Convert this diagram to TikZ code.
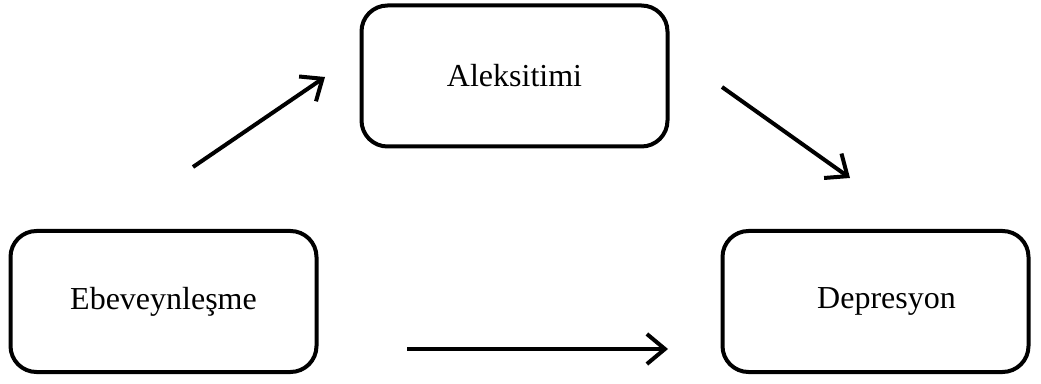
\documentclass[tikz,border=0pt]{standalone}
\usepackage{fontspec}
\setmainfont{Liberation Serif}
\usetikzlibrary{arrows.meta}

\tikzset{
  kutu/.style={draw, line width=4pt, rounded corners=26pt, inner sep=0pt,
    minimum width=306pt, minimum height=141pt, font=\fontsize{32}{38}\selectfont},
  ok/.style={line width=4pt, -{Straight Barb[length=18pt,width=30pt,line width=4pt]}}
}

\begin{document}
\begin{tikzpicture}[x=1pt,y=1pt]
\useasboundingbox (0,0) rectangle (1041,383);
\node[kutu] (ebev) at (163.5,81.5) {Ebeveynleşme};
\node[kutu] (aleks) at (514.5,307) {Aleksitimi};
\node[kutu] (depr) at (875.5,81.5) {\hspace*{22pt}Depresyon};

\coordinate (E1) at (193,216);
\coordinate (A1) at (325,306);
\coordinate (A2) at (722,296);
\coordinate (D1) at (850,205);
\coordinate (E2) at (407,34);
\coordinate (D2) at (668,34);

\draw[ok] (E1) -- (A1);
\draw[ok] (A2) -- (D1);
\draw[ok] (E2) -- (D2);
\end{tikzpicture}
\end{document}
